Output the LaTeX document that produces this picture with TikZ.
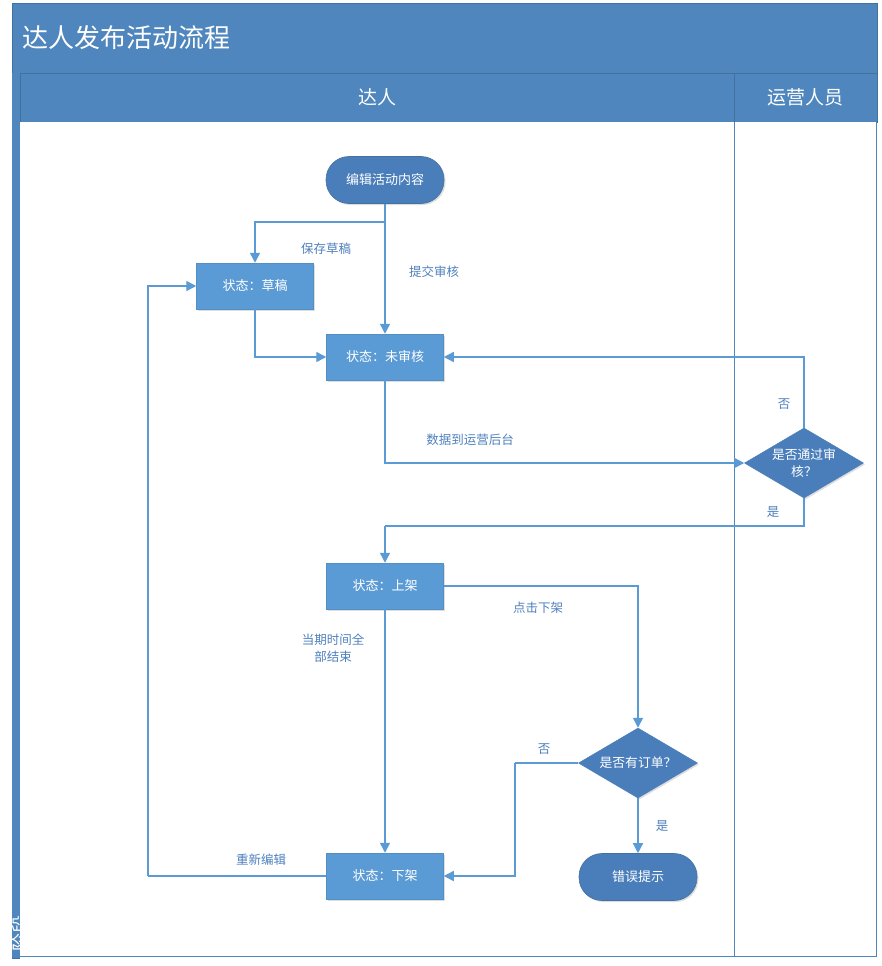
\documentclass[tikz,border=0pt]{standalone}
\usepackage{fontspec}
\newfontfamily\cjk{Noto Sans CJK SC}
\usetikzlibrary{arrows.meta,shapes.geometric,shadows}

\definecolor{band}{HTML}{4F86BD}
\definecolor{bandline}{HTML}{41719C}
\definecolor{boxfill}{HTML}{5B9BD5}
\definecolor{termfill}{HTML}{4A7EBB}
\definecolor{flow}{HTML}{5B9BD5}
\definecolor{labeltxt}{HTML}{4F81BD}

\tikzset{
  softshadow/.style={drop shadow={shadow xshift=1.5pt,shadow yshift=-1.5pt,opacity=0.22,fill=black!60}},
  stepbox/.style={rectangle,fill=boxfill,draw=boxfill!92!black,line width=0.5pt,
    minimum width=117pt,minimum height=46pt,inner sep=0pt,text=white,
    font=\cjk\fontsize{13}{15}\selectfont,softshadow},
  terminal/.style={rectangle,rounded corners=23pt,fill=termfill,draw=bandline,line width=0.6pt,
    minimum width=118pt,minimum height=47pt,inner sep=0pt,text=white,
    font=\cjk\fontsize{13}{15}\selectfont,softshadow},
  decision/.style={diamond,fill=termfill,draw=termfill,line width=0.5pt,
    minimum width=119pt,minimum height=70pt,inner sep=0pt,softshadow},
  dtext/.style={text=white,align=center,font=\cjk\fontsize{12.8}{17}\selectfont},
  flowline/.style={draw=flow,line width=1.4pt,-{Triangle[length=10pt,width=10pt]}},
  plainline/.style={draw=flow,line width=1.4pt},
  lbl/.style={text=labeltxt,font=\cjk\fontsize{12.5}{17}\selectfont,align=center,inner sep=1pt},
  lanehead/.style={text=white,font=\cjk\fontsize{19}{22}\selectfont},
}

\begin{document}
\begin{tikzpicture}[x=1pt,y=-1pt]
\useasboundingbox (0,0) rectangle (882,966);
\fill[white] (0,0) rectangle (882,966);

% pool frame: title band, lane headers, left strip, lane bodies
\fill[band] (12,3) rectangle (877,122);
\draw[bandline,line width=0.8pt] (12,3) rectangle (877,122);
\draw[bandline,line width=0.8pt] (12,73) -- (877,73);
\fill[band] (12,73) rectangle (20,958);
\fill[white] (20,122) rectangle (876,956);
\draw[band,line width=1pt] (20,956) -- (876,956) -- (876,122);
\draw[bandline,line width=1pt] (12,958) -- (20,958);
\draw[bandline,line width=0.8pt] (734,73) -- (734,122);
\draw[band,line width=1pt] (734,122) -- (734,956);
\draw[bandline,line width=0.6pt] (20,73) -- (20,122);

\node[anchor=west,text=white,font=\cjk\fontsize{26}{30}\selectfont] (title) at (19,38) {达人发布活动流程};
\node[lanehead] (laneA) at (377,97) {达人};
\node[lanehead] (laneB) at (805,97) {运营人员};

\begin{scope}
  \clip (12,73) rectangle (20,958);
  \node[rotate=90,text=white,font=\cjk\fontsize{18}{18}\selectfont] (phase) at (21,933) {阶段};
\end{scope}

% flow nodes
\node[terminal] (edit) at (385,180) {编辑活动内容};
\node[stepbox] (draft) at (255,286) {状态：草稿};
\node[stepbox] (pending) at (385,357) {状态：未审核};
\node[decision,label={[dtext]center:是否通过审\\核？}] (audit) at (804,463) {};
\node[stepbox] (online) at (385,586) {状态：上架};
\node[decision,label={[dtext]center:是否有订单？}] (orders) at (638,763) {};
\node[stepbox] (offline) at (385,876) {状态：下架};
\node[terminal] (error) at (638,877) {错误提示};

% helper corners
\coordinate (split) at (385,222);
\coordinate (backleft) at (148,876);
\coordinate (passbend) at (385,526);
\coordinate (nobend) at (515,763);

% connectors
\draw[flowline] (edit.south) -- (pending.north);
\draw[flowline] (split) -| (draft.north);
\draw[flowline] (draft.south) |- (pending.west);
\draw[flowline] (pending.south) |- (audit.west);
\draw[flowline] (audit.north) |- (pending.east);
\draw[plainline] (audit.south) |- (passbend);
\draw[flowline] (passbend) -- (online.north);
\draw[flowline] (online.east) -| (orders.north);
\draw[flowline] (online.south) -- (offline.north);
\draw[plainline] (orders.west) -- (nobend);
\draw[flowline] (nobend) |- (offline.east);
\draw[flowline] (orders.south) -- (error.north);
\draw[plainline] (offline.west) -- (backleft);
\draw[flowline] (backleft) |- (draft.west);

% connector labels
\node[lbl] (l1) at (326,249) {保存草稿};
\node[lbl] (l2) at (434,272) {提交审核};
\node[lbl] (l3) at (470,440) {数据到运营后台};
\node[lbl] (l4) at (784,404) {否};
\node[lbl] (l5) at (773,512) {是};
\node[lbl] (l6) at (538,608) {点击下架};
\node[lbl] (l7) at (333,648) {当期时间全\\部结束};
\node[lbl] (l8) at (544,749) {否};
\node[lbl] (l9) at (662,826) {是};
\node[lbl] (l10) at (261,860) {重新编辑};
\end{tikzpicture}
\end{document}
